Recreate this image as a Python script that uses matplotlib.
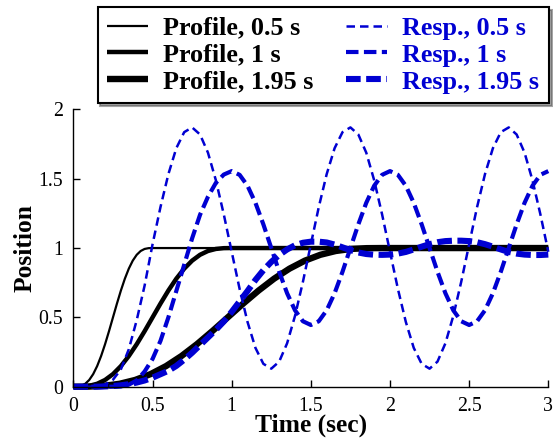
import numpy as np
import matplotlib
matplotlib.use("Agg")
import matplotlib.pyplot as plt

plt.rcParams['font.family'] = ['Liberation Serif', 'DejaVu Serif']

# ---- data ----
profile_durations = [0.5, 1.0, 1.95]
profile_labels = ["Profile, 0.5 s", "Profile, 1 s", "Profile, 1.95 s"]
resp_labels = ["Resp., 0.5 s", "Resp., 1 s", "Resp., 1.95 s"]

# normalized profile shape (fraction of move time -> position)
profile_frac = [0.0, 0.05, 0.10, 0.15, 0.20, 0.25, 0.30, 0.35, 0.40, 0.45, 0.50,
                0.55, 0.60, 0.65, 0.70, 0.75, 0.80, 0.85, 0.90, 0.95, 1.0]
profile_shape = [0.0, 0.0008, 0.0064, 0.0212, 0.0486, 0.0908, 0.1486, 0.2212, 0.3064,
                 0.4008, 0.5, 0.5992, 0.6936, 0.7788, 0.8514, 0.9092, 0.9514, 0.9788,
                 0.9936, 0.9992, 1.0]

t_resp = np.linspace(0.0, 3.0, 61)
resp_05 = [0, 0, 0, 0.003, 0.015, 0.05, 0.125, 0.27, 0.48, 0.73,
           1.027, 1.295, 1.533, 1.720, 1.836, 1.870, 1.819, 1.688, 1.489, 1.243,
           0.973, 0.705, 0.467, 0.280, 0.165, 0.130, 0.181, 0.313, 0.511, 0.757,
           1.027, 1.295, 1.533, 1.720, 1.836, 1.870, 1.819, 1.688, 1.489, 1.243,
           0.973, 0.705, 0.467, 0.280, 0.165, 0.130, 0.181, 0.313, 0.511, 0.757,
           1.027, 1.295, 1.533, 1.720, 1.836, 1.870, 1.819, 1.688, 1.489, 1.243,
           0.973]
resp_1 = [0, 0, 0, 0, 0, 0, 0.003, 0.015, 0.045, 0.11,
          0.2, 0.33, 0.5, 0.69, 0.88, 1.07, 1.24, 1.37, 1.47, 1.53,
          1.555, 1.528, 1.449, 1.326, 1.171, 1.0, 0.829, 0.674, 0.551, 0.472,
          0.445, 0.472, 0.551, 0.674, 0.829, 1.0, 1.171, 1.326, 1.449, 1.528,
          1.555, 1.528, 1.449, 1.326, 1.171, 1.0, 0.829, 0.674, 0.551, 0.472,
          0.445, 0.472, 0.551, 0.674, 0.829, 1.0, 1.171, 1.326, 1.449, 1.528,
          1.555]
resp_195 = [0, 0, 0, 0, 0.002, 0.005, 0.01, 0.018, 0.03, 0.045,
            0.065, 0.09, 0.115, 0.15, 0.195, 0.245, 0.3, 0.355, 0.41, 0.47,
            0.54, 0.615, 0.69, 0.77, 0.84, 0.9, 0.95, 0.99, 1.02, 1.038,
            1.046, 1.046, 1.04, 1.025, 1.005, 0.985, 0.968, 0.957, 0.952, 0.951,
            0.953, 0.96, 0.972, 0.99, 1.01, 1.028, 1.042, 1.05, 1.053, 1.053,
            1.05, 1.042, 1.028, 1.01, 0.99, 0.972, 0.96, 0.953, 0.95, 0.95,
            0.953]
responses = [resp_05, resp_1, resp_195]

x_ticks = [0, 0.5, 1, 1.5, 2, 2.5, 3]
x_ticklabels = ["0", "0.5", "1", "1.5", "2", "2.5", "3"]
y_ticks = [0, 0.5, 1, 1.5, 2]
y_ticklabels = ["0", "0.5", "1", "1.5", "2"]

# ---- styling ----
W, H = 553, 438
fig = plt.figure(figsize=(W / 100, H / 100), dpi=100)
ax = fig.add_axes([73.4 / W, (H - 386.7) / H, (548.3 - 73.4) / W, (386.7 - 109.4) / H])

blue = '#0000d2'
prof_lw = [1.6, 3.2, 4.6]
resp_lw = [1.8, 3.0, 4.4]
resp_dash = [(3.4, 2.0), (3.0, 1.3), (2.4, 0.9)]

handles = []
for T, lw, lab in zip(profile_durations, prof_lw, profile_labels):
    tt = [T * f for f in profile_frac] + [3.0]
    yy = profile_shape + [1.0]
    h, = ax.plot(tt, yy, color='black', lw=lw, label=lab, clip_on=False,
                 solid_capstyle='butt')
    handles.append(h)
for r, lw, ds, lab in zip(responses, resp_lw, resp_dash, resp_labels):
    h, = ax.plot(t_resp, r, color=blue, lw=lw, label=lab, clip_on=False,
                 dashes=ds)
    handles.append(h)

ax.set_xlim(0, 3)
ax.set_ylim(0, 2)
ax.set_xticks(x_ticks)
ax.set_xticklabels(x_ticklabels)
ax.set_yticks(y_ticks)
ax.set_yticklabels(y_ticklabels)
ax.spines['top'].set_visible(False)
ax.spines['right'].set_visible(False)
for s in ('left', 'bottom'):
    ax.spines[s].set_linewidth(1.0)
ax.tick_params(direction='in', length=5, width=1.0, labelsize=14.3, pad=7.5)
ax.set_xlabel('Time (sec)', fontsize=18.4, fontweight='bold', labelpad=-1.5)
ax.set_ylabel('Position', fontsize=18.4, fontweight='bold', labelpad=1.5)

leg = fig.legend(handles=handles, ncol=2, loc='upper left',
                 bbox_to_anchor=(97.7 / W, 1 - 7 / H), borderaxespad=0,
                 prop={'family': 'Liberation Serif', 'weight': 'bold', 'size': 18.8},
                 frameon=True, fancybox=False, shadow=True,
                 handlelength=1.55, handletextpad=0.6, columnspacing=1.25,
                 labelspacing=0.14, borderpad=0.36)
leg.get_frame().set_edgecolor('black')
leg.get_frame().set_linewidth(1.5)
for i, txt in enumerate(leg.get_texts()):
    txt.set_color('black' if i < 3 else blue)

fig.savefig('out.png', dpi=100)
